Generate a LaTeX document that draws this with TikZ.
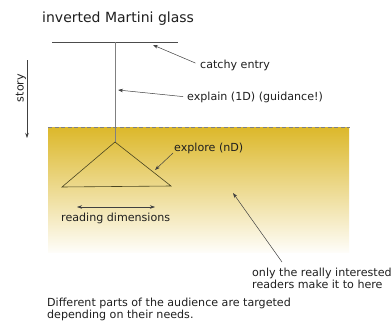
\documentclass[tikz,border=0pt]{standalone}
\usepackage{fontspec}
\setmainfont{DejaVu Sans}
\usetikzlibrary{arrows.meta}
\definecolor{gold}{HTML}{DCB82A}
\definecolor{olive}{HTML}{4A4520}
\begin{document}
\begin{tikzpicture}[x=1pt,y=-1pt,
  lbl/.style={font=\fontsize{11.1}{11.6}\selectfont, inner sep=0pt, text=black!88},
  ttl/.style={font=\fontsize{14}{16}\selectfont, inner sep=0pt, text=black!88},
  arr/.style={-{Stealth[length=5pt,width=3.5pt]}, draw=black!75, line width=0.5pt},
  darr/.style={{Stealth[length=5pt,width=3.5pt]}-{Stealth[length=5pt,width=3.5pt]}, draw=black!75, line width=0.5pt}]
\useasboundingbox (0,0) rectangle (391,324);
\fill[white] (0,0) rectangle (391,324);
% shaded audience area
\shade[top color=gold, bottom color=gold!3] (48,127) rectangle (349,252);
\draw[gray, dash pattern=on 4pt off 2.5pt] (48,127) -- (350,127);
% glass
\draw[black!70, line width=0.6pt] (52,42) -- (178,42);
\draw[gray, line width=0.6pt] (115,42) -- (115,142);
\draw[olive, line width=0.6pt] (115,142) -- (62,187) -- (171,186) -- cycle;
% texts
\node[ttl, anchor=west] (title) at (42,19) {inverted Martini glass};
\node[lbl, anchor=west] (catchy) at (200,65) {catchy entry};
\node[lbl, anchor=west] (explain) at (187,97) {explain (1D) (guidance!)};
\node[lbl, rotate=90] (story) at (21,88) {story};
\node[lbl, anchor=west] (explore) at (174,148) {explore (nD)};
\node[lbl, anchor=west] (reading) at (61,218) {reading dimensions};
\node[lbl, anchor=north west, align=left] (only) at (252,268) {only the really interested\\readers make it to here};
\node[lbl, anchor=north west, align=left] (diff) at (47,298) {Different parts of the audience are targeted\\depending on their needs.};
% coordinates
\coordinate (catchyTip) at (153,45);
\coordinate (explainTip) at (118,90);
\coordinate (exploreTail) at (173,153);
\coordinate (exploreTip) at (155,170);
\coordinate (onlyTail) at (282,262);
\coordinate (onlyTip) at (233,193);
\coordinate (readL) at (77,207);
\coordinate (readR) at (155,207);
\coordinate (storyTop) at (27,60);
\coordinate (storyBot) at (27,138);
% arrows
\draw[arr, shorten <=5pt] (catchy.west) -- (catchyTip);
\draw[arr, shorten <=4pt] (explain.west) -- (explainTip);
\draw[arr] (exploreTail) -- (exploreTip);
\draw[arr] (onlyTail) -- (onlyTip);
\draw[darr] (readL) -- (readR);
\draw[arr] (storyTop) -- (storyBot);
\end{tikzpicture}
\end{document}
